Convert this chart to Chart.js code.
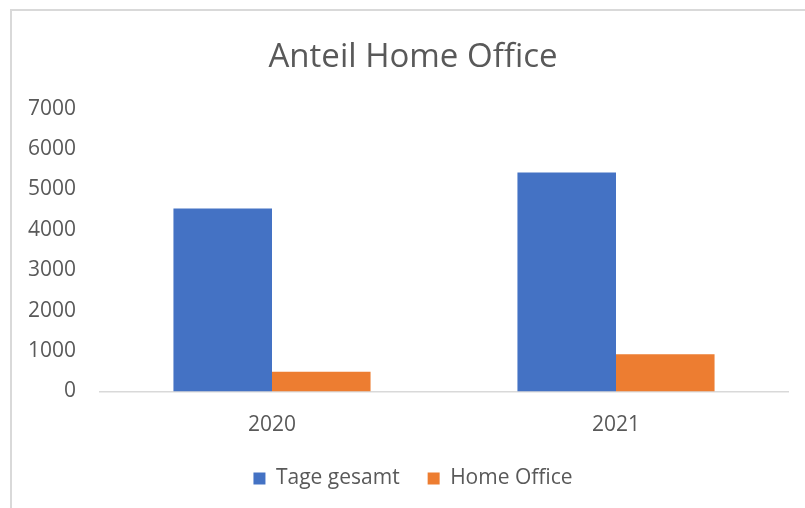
<!DOCTYPE html>
<html>
<head>
<meta charset="utf-8">
<script src="https://cdn.jsdelivr.net/npm/chart.js@4"></script>
<style>
  html, body { margin: 0; padding: 0; background: #fff; overflow: hidden; }
  body { width: 805px; height: 508px; position: relative; }
  #frame { position: absolute; left: 10px; top: 9px; width: 900px; height: 600px;
           border-left: 2px solid #d9d9d9; border-top: 2px solid #d9d9d9; }
  #wrap { position: absolute; left: 0; top: 0; width: 826px; height: 508px; }
</style>
</head>
<body>
<div id="frame"></div>
<div id="wrap"><canvas id="homeOfficeChart"></canvas></div>
<script>
const years = ['2020', '2021'];
const tageGesamt = [4530, 5420];
const homeOffice = [490, 920];
const yTicks = [0, 1000, 2000, 3000, 4000, 5000, 6000, 7000];

const textColor = '#595959';
const font = 'Open Sans';

const ctx = document.getElementById('homeOfficeChart').getContext('2d');
new Chart(ctx, {
    type: 'bar',
    data: {
        labels: years,
        datasets: [{
            label: 'Tage gesamt',
            data: tageGesamt,
            backgroundColor: '#4472c4'
        }, {
            label: 'Home Office',
            data: homeOffice,
            backgroundColor: '#ed7d31'
        }]
    },
    options: {
        responsive: true,
        maintainAspectRatio: false,
        animation: false,
        categoryPercentage: 0.573,
        barPercentage: 1,
        layout: { padding: { left: 0, right: 0, top: 0, bottom: 9 } },
        plugins: {
            tooltip: { enabled: false },
            title: {
                display: true,
                text: 'Anteil Home Office',
                color: textColor,
                font: { family: font, size: 33, weight: 'normal' },
                padding: { top: 38, bottom: 31 }
            },
            legend: {
                position: 'bottom',
                labels: {
                    color: textColor,
                    font: { family: font, size: 21 },
                    boxWidth: 12,
                    boxHeight: 12,
                    padding: 28
                }
            }
        },
        scales: {
            x: {
                afterFit: (scale) => { scale.height = 48.5; },
                grid: { display: false, drawTicks: false },
                border: { display: true, color: '#d9d9d9', width: 1.5 },
                ticks: { color: textColor, font: { family: font, size: 21 }, padding: 21 }
            },
            y: {
                min: 0,
                max: 7000,
                afterBuildTicks: (scale) => { scale.ticks = yTicks.map(v => ({ value: v })); },
                afterFit: (scale) => { scale.width = 100; },
                grid: { display: false, drawTicks: false },
                border: { display: false },
                ticks: {
                    color: textColor,
                    font: { family: font, size: 21 },
                    padding: 24,
                    callback: (value) => String(value)
                }
            },
            // empty right-hand margin so the title and legend centre like the original
            yRight: {
                type: 'linear',
                position: 'right',
                afterFit: (scale) => { scale.width = 38; },
                grid: { display: false, drawTicks: false },
                border: { display: false },
                ticks: { display: false }
            }
        }
    }
});
</script>
</body>
</html>
